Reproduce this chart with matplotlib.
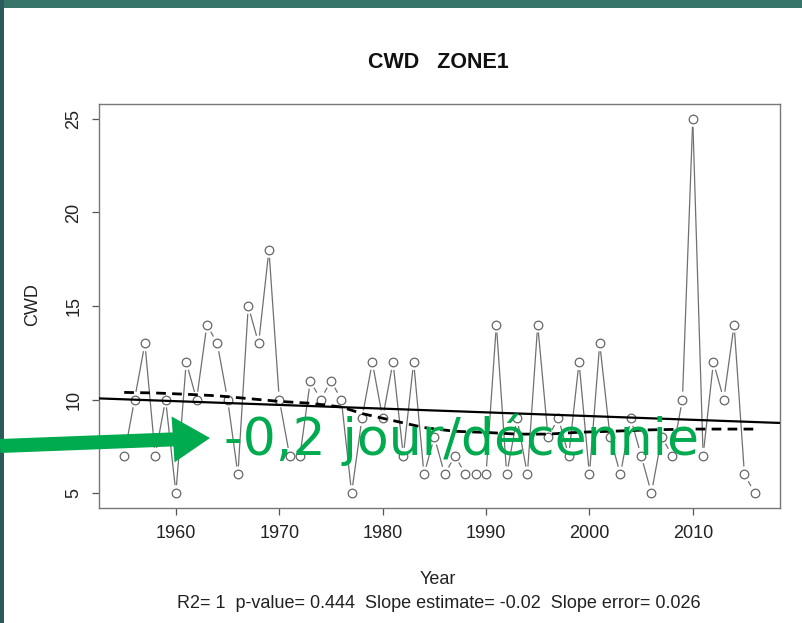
import numpy as np
import matplotlib
matplotlib.use("Agg")
import matplotlib.pyplot as plt
from matplotlib.patches import Rectangle, FancyArrow

plt.rcParams["font.family"] = ["Liberation Sans", "DejaVu Sans"]
plt.rcParams["lines.scale_dashes"] = False

# Annual CWD series for zone 1
years = list(range(1955, 2017))
cwd = [7, 10, 13, 7, 10, 5, 12, 10, 14, 13,
       10, 6, 15, 13, 18, 10, 7, 7, 11, 10,
       11, 10, 5, 9, 12, 9, 12, 7, 12, 6,
       8, 6, 7, 6, 6, 6, 14, 6, 9, 6,
       14, 8, 9, 7, 12, 6, 13, 8, 6, 9,
       7, 5, 8, 7, 10, 25, 7, 12, 10, 14,
       6, 5]

# Smoothed curve (dashed)
smooth_years = [1955, 1958, 1961, 1964, 1967, 1970, 1973, 1976, 1978, 1980,
                1982, 1984, 1987, 1990, 1993, 1996, 1999, 2002, 2006, 2010, 2016]
smooth_vals = [10.38, 10.35, 10.28, 10.2, 10.05, 9.9, 9.8, 9.6, 9.25, 9.0,
               8.75, 8.5, 8.3, 8.24, 8.15, 8.15, 8.25, 8.3, 8.38, 8.42, 8.42]

x_ticks = [1960, 1970, 1980, 1990, 2000, 2010]
y_ticks = [5, 10, 15, 20, 25]

title = "CWD   ZONE1"
stats_line = "R2= 1  p-value= 0.444  Slope estimate= -0.02  Slope error= 0.026"
trend_note = "-0,2 jour/décennie"

W, H = 803, 623
fig = plt.figure(figsize=(W / 100, H / 100), dpi=100)
fig.patch.set_facecolor("white")


def fx(px):
    return px / W


def fy(py):
    return 1 - py / H


# slide frame (teal bands)
fig.patches.append(Rectangle((0, fy(8)), 1, 8 / H, transform=fig.transFigure,
                             facecolor="#367468", edgecolor="none", zorder=0))
fig.patches.append(Rectangle((0, 0), 4 / W, 1, transform=fig.transFigure,
                             facecolor="#2a5b5c", edgecolor="none", zorder=0))

ax = fig.add_axes([fx(99), fy(508), fx(780) - fx(99), (508 - 104) / H])
x = np.array(years, dtype=float)
y = np.array(cwd, dtype=float)
pad_x = 0.04 * (x.max() - x.min())
pad_y = 0.04 * (y.max() - y.min())
ax.set_xlim(x.min() - pad_x, x.max() + pad_x)
ax.set_ylim(y.min() - pad_y, y.max() + pad_y)

# R type="b": segments stop short of each point
pts = ax.transData.transform(np.column_stack([x, y]))
gap = 8.5
inv = ax.transData.inverted()
for p0, p1 in zip(pts[:-1], pts[1:]):
    d = p1 - p0
    L = np.hypot(*d)
    if L <= 2 * gap:
        continue
    u = d / L
    seg = inv.transform(np.array([p0 + u * gap, p1 - u * gap]))
    ax.plot(seg[:, 0], seg[:, 1], color="#707070", lw=0.9, zorder=2)

ax.plot(x, y, linestyle="none", marker="o", ms=6.2, mfc="white",
        mec="#666666", mew=0.9, zorder=3)

# linear trend over the full axis width
slope, intercept = np.polyfit(x, y, 1)
xl = np.array(ax.get_xlim())
ax.plot(xl, intercept + slope * xl, color="black", lw=1.6, zorder=4)
ax.plot(smooth_years, smooth_vals, color="black", lw=2.0,
        dashes=(7, 4.5), zorder=4)

ax.set_xticks(x_ticks)
ax.set_yticks(y_ticks)
ax.tick_params(length=5, width=0.9, color="#555555", labelsize=13,
               pad=7, labelcolor="#222222")
ax.tick_params(axis="y", labelrotation=90)
for lab in ax.get_yticklabels():
    lab.set_va("center")
for s in ax.spines.values():
    s.set_color("#777777")
    s.set_linewidth(1.0)

fig.text(fx(438), fy(62), title, ha="center", va="center",
         fontsize=15.5, fontweight="bold", color="#111111")
fig.text(fx(438), fy(579), "Year", ha="center", va="center",
         fontsize=13, color="#222222")
fig.text(fx(439), fy(603), stats_line, ha="center", va="center",
         fontsize=13, color="#222222")
fig.text(fx(33), fy(305), "CWD", ha="center", va="center", rotation=90,
         fontsize=13, color="#222222")

# green annotation arrow and label
green = "#00aa4f"
arr = FancyArrow(fx(0), fy(446), fx(210), fy(438) - fy(446),
                 width=14 / H, head_width=46 / H, head_length=fx(37),
                 length_includes_head=True, transform=fig.transFigure,
                 color=green, lw=0, zorder=6)
fig.patches.append(arr)
fig.text(fx(462), fy(440), trend_note, ha="center", va="center",
         fontsize=37.5, color=green, family=["DejaVu Sans"], zorder=7)

fig.savefig("out.png", dpi=100)
